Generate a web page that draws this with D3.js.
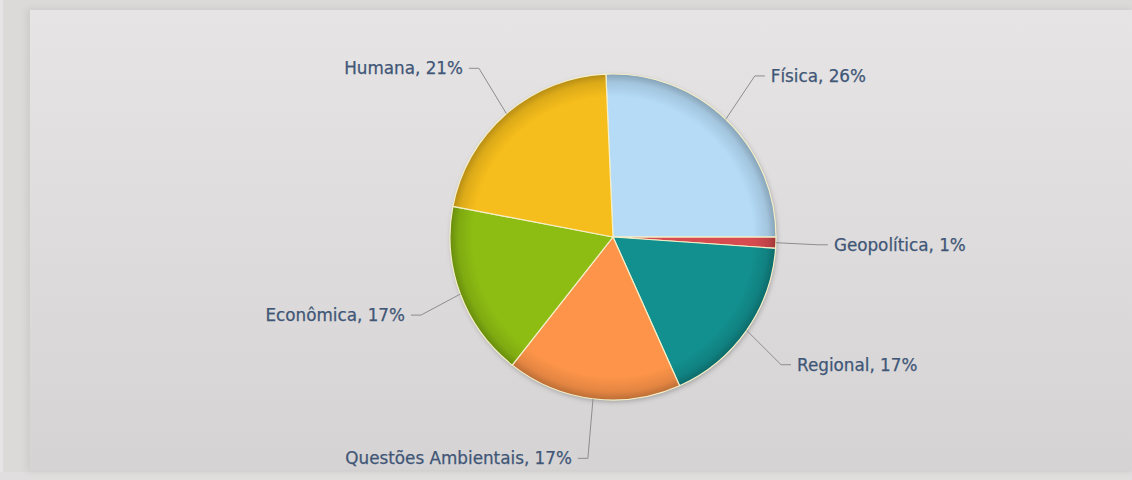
<!DOCTYPE html>
<html>
<head>
<meta charset="utf-8">
<script src="https://cdn.jsdelivr.net/npm/d3@7"></script>
<style>
  html, body { margin: 0; padding: 0; background: #dedbdb; }
  svg { display: block; }
</style>
</head>
<body>
<svg id="chart" width="1132" height="480"></svg>
<script>
// ---- data ----
const categories = ["Física", "Geopolítica", "Regional", "Questões Ambientais", "Econômica", "Humana"];
const values = [25.7, 1.1, 17.2, 17.3, 17.4, 21.3];
const colors = ["#b5dbf7", "#d64b4f", "#12908f", "#fd9449", "#8dbd13", "#f6be1c"];

const W = 1132, H = 480;
const cx = 613, cy = 237, r = 163;
const labelRx = 205, labelRy = 223;
const startDeg = -2.5;

const svg = d3.select("#chart");
const defs = svg.append("defs");

// background
const bg = defs.append("linearGradient").attr("id", "bgGrad").attr("x1", 0).attr("y1", 0).attr("x2", 0).attr("y2", 1);
bg.append("stop").attr("offset", "0%").attr("stop-color", "#e6e4e4");
bg.append("stop").attr("offset", "100%").attr("stop-color", "#d5d3d3");

svg.append("rect").attr("x", 0).attr("y", 0).attr("width", W).attr("height", H).attr("fill", "#dcd9d9");
svg.append("rect").attr("x", 0).attr("y", 0).attr("width", 3).attr("height", H).attr("fill", "#e6e4e4");
svg.append("rect").attr("x", 0).attr("y", 472).attr("width", W).attr("height", 8).attr("fill", "#e0dede");

const panelShadow = defs.append("filter").attr("id", "panelShadow").attr("x", "-5%").attr("y", "-5%").attr("width", "110%").attr("height", "110%");
panelShadow.append("feGaussianBlur").attr("stdDeviation", 3);
svg.append("rect").attr("x", 26).attr("y", 8).attr("width", W - 26).attr("height", 464)
  .attr("fill", "#cfcccc").attr("filter", "url(#panelShadow)");
svg.append("rect").attr("x", 30).attr("y", 10).attr("width", W - 30).attr("height", 460)
  .attr("fill", "url(#bgGrad)");

// pie
const total = d3.sum(values);
const data = categories.map((c, i) => ({ name: c, value: values[i], color: colors[i] }));
const s0 = startDeg * Math.PI / 180;
const pie = d3.pie().value(d => d.value).sort(null).startAngle(s0).endAngle(s0 + 2 * Math.PI);
const arcs = pie(data);
const arc = d3.arc().innerRadius(0).outerRadius(r);

// gradients per slice: flat color with darker rim (in the translated slice space)
arcs.forEach((a, i) => {
  const g = defs.append("radialGradient").attr("id", "sg" + i)
    .attr("gradientUnits", "userSpaceOnUse").attr("cx", 0).attr("cy", 0).attr("r", r);
  const base = d3.color(a.data.color);
  g.append("stop").attr("offset", "0%").attr("stop-color", base.formatHex());
  g.append("stop").attr("offset", "86%").attr("stop-color", base.formatHex());
  g.append("stop").attr("offset", "95%").attr("stop-color", base.darker(0.3).formatHex());
  g.append("stop").attr("offset", "100%").attr("stop-color", base.darker(0.85).formatHex());
});

const sh = defs.append("filter").attr("id", "pieShadow").attr("x", "-20%").attr("y", "-20%").attr("width", "140%").attr("height", "140%");
sh.append("feDropShadow").attr("dx", 1).attr("dy", 2).attr("stdDeviation", 2.5)
  .attr("flood-color", "#000").attr("flood-opacity", 0.25);

const pg = svg.append("g").attr("transform", `translate(${cx},${cy})`);
pg.append("circle").attr("r", r).attr("fill", "#ccc").attr("filter", "url(#pieShadow)");

pg.selectAll("path.slice").data(arcs).join("path")
  .attr("class", "slice")
  .attr("d", arc)
  .attr("fill", (d, i) => `url(#sg${i})`)
  .attr("stroke", "#f4efc8")
  .attr("stroke-width", 1.2)
  .attr("stroke-linejoin", "round");

// labels + connectors
const lblG = svg.append("g");
arcs.forEach(a => {
  const mid = (a.startAngle + a.endAngle) / 2;
  const side = Math.sin(mid) >= 0 ? 1 : -1;
  const ex = cx + r * Math.sin(mid), ey = cy - r * Math.cos(mid);
  const bx = cx + labelRx * Math.sin(mid), by = cy - labelRy * Math.cos(mid);
  const path = d3.path();
  path.moveTo(ex, ey);
  path.lineTo(bx, by);
  path.lineTo(bx + side * 10, by);
  lblG.append("path").attr("d", path.toString())
    .attr("fill", "none").attr("stroke", "#8e8e8e").attr("stroke-width", 1);
  const pct = Math.round(a.data.value / total * 100);
  lblG.append("text")
    .attr("x", bx + side * 16).attr("y", by)
    .attr("dy", "0.35em")
    .attr("text-anchor", side > 0 ? "start" : "end")
    .attr("font-family", "DejaVu Sans, Verdana, sans-serif")
    .attr("font-size", "16.8px")
    .attr("fill", "#3f5677")
    .attr("stroke", "#3f5677")
    .attr("stroke-width", 0.25)
    .text(`${a.data.name}, ${pct}%`);
});
</script>
</body>
</html>
